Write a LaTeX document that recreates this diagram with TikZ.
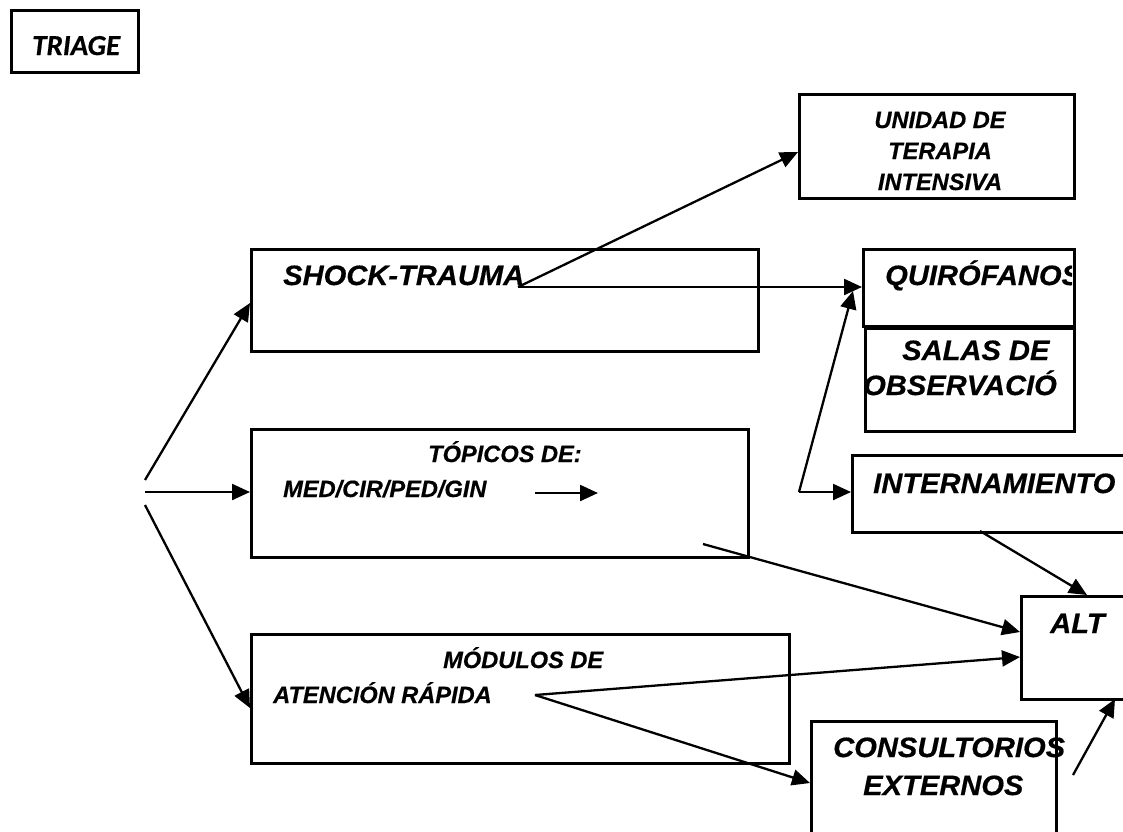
\documentclass[tikz,border=0pt]{standalone}
\usepackage{fontspec}
\setmainfont{Liberation Sans}[FakeBold=0.5]
\newfontfamily\widesans{Liberation Sans}[FakeStretch=1.04,FakeBold=0.5]
\newfontfamily\carl{Carlito}[FakeBold=0.5]
\usetikzlibrary{arrows.meta}
\begin{document}
\begin{tikzpicture}[x=1pt,y=-1pt,
  box/.style={draw,line width=2.6pt,rectangle,inner sep=0pt,anchor=north west},
  big/.style={inner sep=0pt,anchor=base west,font=\widesans\fontsize{28}{30}\selectfont\bfseries\itshape},
  small/.style={inner sep=0pt,anchor=base west,font=\fontsize{23.6}{26}\selectfont\bfseries\itshape},
  arr/.style={line width=2.3pt,-{Triangle[length=18pt,width=16pt]}}]
\useasboundingbox (0,0) rectangle (1123,831);
% boxes
\node[box,minimum width=127pt,minimum height=62pt] (triagebox) at (10,9) {};
\node[box,minimum width=275pt,minimum height=104pt] (uti) at (798,93) {};
\node[box,minimum width=507pt,minimum height=102pt] (shock) at (250,248) {};
\node[box,minimum width=211pt,minimum height=77pt] (quir) at (862,248) {};
\node[box,minimum width=209pt,minimum height=103pt] (salas) at (864,327) {};
\node[box,minimum width=497pt,minimum height=128pt] (topicos) at (250,428) {};
\node[box,minimum width=290pt,minimum height=77pt] (intern) at (851,454) {};
\node[box,minimum width=120pt,minimum height=103pt] (alt) at (1020,595) {};
\node[box,minimum width=538pt,minimum height=129pt] (modulos) at (250,633) {};
\node[box,minimum width=245pt,minimum height=130pt] (consult) at (810,720) {};
% texts
\node[inner sep=0pt,anchor=base west,font=\carl\fontsize{29}{30}\selectfont\bfseries\itshape] (ttriage) at (32,55) {TRIAGE};
\node[small,anchor=base] (tuti1) at (940,128) {UNIDAD DE};
\node[small,anchor=base] (tuti2) at (940,159) {TERAPIA};
\node[small,anchor=base] (tuti3) at (940,190) {INTENSIVA};
\node[big] (tshock) at (283,285) {SHOCK-TRAUMA};
\begin{scope}
\clip (862,248) rectangle (1072,325);
\node[big] (tquir) at (885,285) {QUIRÓFANOS};
\end{scope}
\node[big] (tsalas1) at (902,360) {SALAS DE};
\node[big] (tsalas2) at (863,395) {OBSERVACIÓ};
\node[small] (ttop1) at (428,462) {TÓPICOS DE:};
\node[small] (ttop2) at (283,497) {MED/CIR/PED/GIN};
\node[big] (tintern) at (873,493) {INTERNAMIENTO};
\node[big] (talt) at (1050,633) {ALT};
\node[small] (tmod1) at (443,668) {MÓDULOS DE};
\node[small] (tmod2) at (273,703) {ATENCIÓN RÁPIDA};
\node[big] (tcons1) at (833,757) {CONSULTORIOS};
\node[big] (tcons2) at (863,795) {EXTERNOS};
% connector end points
\coordinate (f1) at (145,480);
\coordinate (f2) at (145,492);
\coordinate (f3) at (145,505);
\coordinate (shockin) at (250,303);
\coordinate (topin) at (250,492);
\coordinate (modin) at (250,708);
\coordinate (sh) at (518,287);
\coordinate (utiin) at (798,152);
\coordinate (quirin) at (862,287);
\coordinate (quirin2) at (853,291);
\coordinate (v) at (799,492);
\coordinate (internin) at (851,492);
\coordinate (ta) at (535,493);
\coordinate (tb) at (598,493);
\coordinate (topout) at (703,544);
\coordinate (altin1) at (1020,632);
\coordinate (intout) at (980,531);
\coordinate (altin2) at (1087,595);
\coordinate (mo) at (535,695);
\coordinate (altin3) at (1020,657);
\coordinate (consin) at (810,783);
\coordinate (cout) at (1073,775);
\coordinate (altin4) at (1115,699);
% connectors
\draw[arr] (f1) -- (shockin);
\draw[arr] (f2) -- (topin);
\draw[arr] (f3) -- (modin);
\draw[arr] (sh) -- (utiin);
\draw[arr] (sh) -- (quirin);
\draw[arr] (v) -- (quirin2);
\draw[arr] (v) -- (internin);
\draw[arr] (ta) -- (tb);
\draw[arr] (topout) -- (altin1);
\draw[arr] (intout) -- (altin2);
\draw[arr] (mo) -- (altin3);
\draw[arr] (mo) -- (consin);
\draw[arr] (cout) -- (altin4);
\end{tikzpicture}
\end{document}
